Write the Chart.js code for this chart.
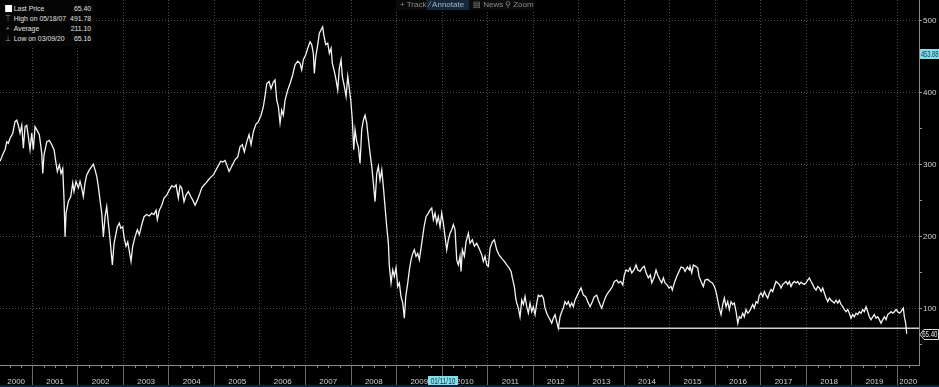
<!DOCTYPE html>
<html lang="en">
<head>
<meta charset="UTF-8">
<title>Price history 2000-2020</title>
<script src="https://cdn.jsdelivr.net/npm/chart.js"></script>
<style>
    body {
        margin: 0;
        background: #000;
        font-family: Arial, 'Liberation Sans', sans-serif;
    }
    .wrap {
        position: relative;
        width: 939px;
        height: 387px;
        background: #000;
    }
    canvas { display: block; }
    .legend {
        position: absolute;
        left: 0;
        top: 0;
        width: 95px;
        height: 46px;
        background: #050505;
    }
    .legend .inner {
        position: absolute;
        left: 0;
        top: 4px;
        width: 110px;
        transform: scaleX(0.86);
        transform-origin: 0 0;
        font-size: 8px;
        color: #e0e0e0;
        white-space: nowrap;
    }
    .legend .row {
        position: relative;
        height: 10px;
        line-height: 10px;
    }
    .legend .ico {
        position: absolute;
        left: 4px;
        width: 10px;
        color: #9a9a9a;
        text-align: center;
    }
    .legend .sq {
        position: absolute;
        left: 6px;
        top: 1px;
        width: 8px;
        height: 7px;
        background: #fff;
    }
    .legend .lab { position: absolute; left: 16px; }
    .legend .val { position: absolute; right: 4px; }
    .toolbar {
        position: absolute;
        left: 396px;
        top: 0;
        height: 10px;
        width: 138px;
        background: #0b0b0b;
        font-size: 8px;
        line-height: 9px;
        color: #8a8a8a;
        white-space: nowrap;
    }
    .toolbar span { position: absolute; top: 0; height: 10px; padding: 0 2px; }
    .toolbar .on { background: #15273b; color: #a3b6c9; }
</style>
</head>
<body>
<div class="wrap">
    <canvas id="priceChart" width="939" height="387"></canvas>
    <div class="legend"><div class="inner" id="legend"></div></div>
    <div class="toolbar">
        <span style="left:2px">+ Track</span>
        <span class="on" style="left:31px;width:38px">&#8725; Annotate</span>
        <span style="left:75px">&#9636; News</span>
        <span style="left:107px">&#9906; Zoom</span>
    </div>
</div>

<script>
// price history (decimal years)
const years = [
    2000.291, 2000.363, 2000.401, 2000.438, 2000.473, 2000.511, 2000.570, 2000.620, 2000.658, 2000.693,
    2000.730, 2000.768, 2000.803, 2000.840, 2000.877, 2000.913, 2000.950, 2000.987, 2001.022, 2001.060,
    2001.097, 2001.154, 2001.207, 2001.229, 2001.257, 2001.317, 2001.374, 2001.427, 2001.477, 2001.521,
    2001.550, 2001.593, 2001.631, 2001.668, 2001.697, 2001.719, 2001.741, 2001.791, 2001.844, 2001.888,
    2001.916, 2001.960, 2002.011, 2002.048, 2002.085, 2002.120, 2002.158, 2002.195, 2002.252, 2002.305,
    2002.340, 2002.378, 2002.415, 2002.450, 2002.487, 2002.525, 2002.560, 2002.597, 2002.634, 2002.670,
    2002.707, 2002.758, 2002.795, 2002.839, 2002.867, 2002.911, 2002.942, 2002.986, 2003.014, 2003.058,
    2003.096, 2003.131, 2003.168, 2003.205, 2003.256, 2003.307, 2003.350, 2003.403, 2003.454, 2003.513,
    2003.570, 2003.623, 2003.673, 2003.717, 2003.746, 2003.790, 2003.843, 2003.893, 2003.952, 2004.009,
    2004.062, 2004.113, 2004.157, 2004.207, 2004.244, 2004.282, 2004.332, 2004.376, 2004.427, 2004.480,
    2004.524, 2004.574, 2004.625, 2004.668, 2004.721, 2004.772, 2004.815, 2004.866, 2004.919, 2004.976,
    2005.035, 2005.086, 2005.138, 2005.182, 2005.233, 2005.270, 2005.321, 2005.380, 2005.452, 2005.512,
    2005.562, 2005.613, 2005.657, 2005.710, 2005.760, 2005.804, 2005.855, 2005.907, 2005.964, 2006.024,
    2006.074, 2006.111, 2006.149, 2006.199, 2006.243, 2006.294, 2006.331, 2006.368, 2006.404, 2006.441,
    2006.478, 2006.513, 2006.551, 2006.610, 2006.661, 2006.711, 2006.770, 2006.830, 2006.880, 2006.917,
    2006.953, 2007.005, 2007.049, 2007.100, 2007.137, 2007.172, 2007.194, 2007.225, 2007.269, 2007.304,
    2007.377, 2007.400, 2007.444, 2007.488, 2007.524, 2007.561, 2007.590, 2007.633, 2007.671, 2007.708,
    2007.743, 2007.781, 2007.809, 2007.853, 2007.891, 2007.928, 2007.956, 2007.994, 2008.029, 2008.060,
    2008.088, 2008.126, 2008.161, 2008.198, 2008.235, 2008.271, 2008.308, 2008.345, 2008.380, 2008.418,
    2008.455, 2008.490, 2008.528, 2008.565, 2008.600, 2008.637, 2008.675, 2008.710, 2008.747, 2008.784,
    2008.820, 2008.842, 2008.879, 2008.916, 2008.951, 2008.989, 2009.026, 2009.061, 2009.098, 2009.136,
    2009.171, 2009.202, 2009.246, 2009.281, 2009.318, 2009.356, 2009.391, 2009.428, 2009.465, 2009.501,
    2009.553, 2009.604, 2009.648, 2009.698, 2009.735, 2009.773, 2009.808, 2009.845, 2009.883, 2009.918,
    2009.955, 2009.992, 2010.028, 2010.065, 2010.102, 2010.138, 2010.175, 2010.212, 2010.247, 2010.284,
    2010.322, 2010.357, 2010.394, 2010.416, 2010.445, 2010.489, 2010.526, 2010.577, 2010.614, 2010.664,
    2010.709, 2010.761, 2010.812, 2010.871, 2010.906, 2010.943, 2010.981, 2011.016, 2011.053, 2011.104,
    2011.148, 2011.200, 2011.251, 2011.310, 2011.367, 2011.420, 2011.471, 2011.515, 2011.543, 2011.587,
    2011.618, 2011.640, 2011.675, 2011.712, 2011.750, 2011.785, 2011.822, 2011.859, 2011.895, 2011.932,
    2011.969, 2012.004, 2012.042, 2012.079, 2012.114, 2012.152, 2012.189, 2012.224, 2012.261, 2012.299,
    2012.334, 2012.371, 2012.408, 2012.443, 2012.481, 2012.518, 2012.553, 2012.591, 2012.628, 2012.663,
    2012.700, 2012.738, 2012.773, 2012.810, 2012.847, 2012.883, 2012.920, 2012.957, 2013.008, 2013.052,
    2013.103, 2013.155, 2013.199, 2013.250, 2013.300, 2013.344, 2013.397, 2013.432, 2013.469, 2013.507,
    2013.542, 2013.595, 2013.639, 2013.689, 2013.740, 2013.784, 2013.836, 2013.872, 2013.924, 2013.968,
    2014.003, 2014.040, 2014.091, 2014.128, 2014.166, 2014.216, 2014.260, 2014.298, 2014.348, 2014.398,
    2014.442, 2014.480, 2014.530, 2014.574, 2014.605, 2014.656, 2014.699, 2014.737, 2014.787, 2014.825,
    2014.860, 2014.897, 2014.947, 2014.985, 2015.029, 2015.057, 2015.101, 2015.154, 2015.204, 2015.248,
    2015.299, 2015.336, 2015.387, 2015.431, 2015.446, 2015.483, 2015.519, 2015.571, 2015.615, 2015.644,
    2015.688, 2015.738, 2015.776, 2015.835, 2015.885, 2015.936, 2015.980, 2016.017, 2016.054, 2016.089,
    2016.127, 2016.164, 2016.200, 2016.236, 2016.274, 2016.309, 2016.347, 2016.384, 2016.419, 2016.457,
    2016.494, 2016.529, 2016.566, 2016.603, 2016.639, 2016.676, 2016.713, 2016.748, 2016.786, 2016.823,
    2016.858, 2016.896, 2016.933, 2016.968, 2017.006, 2017.043, 2017.078, 2017.115, 2017.152, 2017.188,
    2017.225, 2017.262, 2017.297, 2017.335, 2017.372, 2017.407, 2017.445, 2017.482, 2017.517, 2017.555,
    2017.592, 2017.627, 2017.664, 2017.702, 2017.737, 2017.774, 2017.811, 2017.847, 2017.884, 2017.921,
    2017.957, 2017.994, 2018.031, 2018.066, 2018.104, 2018.141, 2018.176, 2018.214, 2018.251, 2018.286,
    2018.324, 2018.361, 2018.396, 2018.433, 2018.471, 2018.506, 2018.543, 2018.580, 2018.616, 2018.653,
    2018.690, 2018.725, 2018.763, 2018.800, 2018.835, 2018.873, 2018.910, 2018.945, 2018.982, 2019.020,
    2019.055, 2019.092, 2019.130, 2019.165, 2019.202, 2019.239, 2019.274, 2019.312, 2019.349, 2019.384,
    2019.422, 2019.459, 2019.494, 2019.532, 2019.569, 2019.604, 2019.641, 2019.679, 2019.714, 2019.751,
    2019.788, 2019.824, 2019.861, 2019.898, 2019.933, 2019.971, 2020.008, 2020.043, 2020.080, 2020.109,
    2020.131, 2020.153, 2020.183, 2020.205
];
const prices = [
    305, 316, 321, 332, 330, 337, 344, 360, 362, 355,
    344, 355, 323, 353, 355, 339, 321, 344, 321, 353,
    349, 342, 316, 288, 314, 332, 334, 328, 321, 302,
    291, 300, 288, 295, 251, 200, 233, 249, 256, 275,
    263, 277, 268, 277, 268, 256, 275, 286, 293, 298,
    301, 293, 284, 270, 251, 233, 200, 228, 242, 219,
    196, 161, 191, 205, 214, 219, 212, 214, 200, 187,
    193, 180, 166, 187, 200, 210, 203, 217, 228, 231,
    229, 233, 231, 237, 224, 237, 244, 254, 258, 265,
    271, 269, 272, 254, 271, 268, 249, 258, 263, 256,
    251, 244, 251, 258, 268, 272, 275, 279, 283, 286,
    293, 299, 305, 304, 306, 300, 291, 298, 307, 311,
    325, 328, 318, 332, 342, 328, 346, 356, 360, 369,
    381, 395, 413, 416, 406, 415, 418, 390, 381, 358,
    376, 369, 390, 404, 413, 423, 439, 444, 441, 432,
    446, 453, 462, 471, 467, 455, 427, 450, 467, 483,
    491.78, 481, 467, 469, 455, 462, 441, 430, 418, 404,
    434, 446, 423, 409, 395, 423, 409, 390, 362, 321,
    349, 332, 325, 302, 349, 362, 369, 358, 337, 316,
    298, 275, 249, 288, 298, 279, 293, 270, 242, 214,
    191, 159, 136, 154, 145, 157, 131, 136, 117, 108,
    87, 117, 136, 154, 168, 177, 182, 173, 177, 168,
    191, 214, 228, 233, 237, 240, 224, 233, 219, 228,
    214, 233, 219, 200, 182, 196, 205, 210, 217, 210,
    168, 161, 173, 152, 182, 173, 193, 205, 191, 196,
    187, 191, 184, 175, 166, 173, 161, 159, 184, 193,
    196, 182, 175, 170, 166, 161, 157, 152, 143, 131,
    115, 108, 101, 89, 112, 106, 117, 103, 94, 108,
    96, 103, 92, 108, 119, 117, 119, 115, 101, 94,
    89, 85, 80, 87, 92, 82, 73, 89, 96, 101,
    110, 106, 110, 103, 108, 103, 112, 117, 124, 129,
    119, 117, 110, 103, 110, 117, 119, 112, 106, 101,
    108, 117, 122, 126, 131, 138, 140, 136, 138, 133,
    147, 154, 152, 157, 150, 154, 161, 154, 152, 157,
    159, 150, 143, 147, 136, 143, 154, 147, 140, 136,
    143, 136, 133, 129, 131, 126, 136, 145, 152, 158,
    157, 152, 158, 154, 159, 150, 161, 159, 157, 145,
    138, 131, 140, 141, 138, 136, 131, 124, 112, 101,
    92, 106, 115, 103, 110, 99, 110, 106, 108, 96,
    80, 89, 87, 94, 89, 99, 94, 96, 101, 106,
    101, 110, 108, 119, 122, 117, 124, 119, 115, 122,
    127, 124, 131, 138, 136, 134, 129, 134, 136, 138,
    134, 138, 131, 136, 138, 136, 138, 134, 137, 135,
    134, 136, 140, 143, 138, 134, 129, 126, 131, 129,
    124, 129, 122, 115, 110, 115, 112, 110, 108, 112,
    108, 112, 106, 103, 99, 96, 99, 94, 87, 92,
    89, 94, 92, 96, 94, 99, 96, 103, 96, 89,
    85, 89, 92, 87, 89, 85, 80, 85, 89, 85,
    92, 94, 96, 94, 96, 99, 96, 94, 96, 99,
    101, 89, 80, 65.40
];

const yearLabels = ['2000', '2001', '2002', '2003', '2004', '2005', '2006', '2007', '2008', '2009',
    '2010', '2011', '2012', '2013', '2014', '2015', '2016', '2017', '2018', '2019', '2020'];
const yTickValues = [100, 200, 300, 400, 500];
const yMinorValues = [50, 150, 250, 350, 450];

const lastPrice = 65.40;
const highPrice = 491.78, highDate = '05/18/07';
const averagePrice = 211.10;
const lowPrice = 65.16, lowDate = '03/09/20';

// horizontal line drawn from the 2012 low
const lowLineStart = 2012.553, lowLineLevel = 73;
// crosshair readouts
const crossValue = 453.88;
const crossDate = 2010.027, crossDateText = '01/11/10';

const xMin = 2000.29, xMax = 2020.475;
const yMin = 22, yMax = 529;
const FONT = "Arial, 'Liberation Sans', sans-serif";

// legend box
const legendRows = [
    { ico: 'sq', label: 'Last Price', value: lastPrice.toFixed(2) },
    { ico: '\u22A4', label: 'High on ' + highDate, value: highPrice.toFixed(2) },
    { ico: '+', label: 'Average', value: averagePrice.toFixed(2) },
    { ico: '\u22A5', label: 'Low on ' + lowDate, value: lowPrice.toFixed(2) }
];
document.getElementById('legend').innerHTML = legendRows.map(r =>
    '<div class="row">' +
    (r.ico === 'sq' ? '<span class="sq"></span>' : '<span class="ico">' + r.ico + '</span>') +
    '<span class="lab">' + r.label + '</span><span class="val">' + r.value + '</span></div>'
).join('');

// tick lists for the x axis: year boundaries (grid) and label positions
const labelPos = {};
yearLabels.forEach(lab => {
    const y = Number(lab);
    const a = Math.max(y, xMin), b = Math.min(y + 1, xMax);
    labelPos[((a + b) / 2).toFixed(4)] = lab;
});

// condensed text on the canvas
function narrowText(ctx, text, x, y, align, sx) {
    ctx.save();
    ctx.translate(x, y);
    ctx.scale(sx, 1);
    ctx.textAlign = align;
    ctx.fillText(text, 0, 0);
    ctx.restore();
}

const overlays = {
    id: 'overlays',
    afterDraw(chart) {
        const ctx = chart.ctx;
        const xs = chart.scales.x, ys = chart.scales.y;
        const area = chart.chartArea;
        ctx.save();

        // small quarter ticks below the plot
        ctx.strokeStyle = '#8a8a8a';
        ctx.lineWidth = 1;
        for (let y = 2000; y <= 2020; y++) {
            [0.25, 0.5, 0.75].forEach(q => {
                const v = y + q;
                if (v <= xMin || v >= xMax) return;
                const px = Math.round(xs.getPixelForValue(v)) + 0.5;
                ctx.beginPath();
                ctx.moveTo(px, area.bottom);
                ctx.lineTo(px, area.bottom + 3);
                ctx.stroke();
            });
        }

        ctx.font = '9px ' + FONT;
        ctx.textBaseline = 'middle';
        const r = area.right;

        // last price tag
        let py = Math.round(ys.getPixelForValue(lastPrice)) + 0.5;
        ctx.beginPath();
        ctx.moveTo(r + 1, py);
        ctx.lineTo(r + 5, py - 5);
        ctx.lineTo(938.5, py - 5);
        ctx.lineTo(938.5, py + 5);
        ctx.lineTo(r + 5, py + 5);
        ctx.closePath();
        ctx.fillStyle = '#000';
        ctx.fill();
        ctx.strokeStyle = '#d8d8d8';
        ctx.stroke();
        ctx.fillStyle = '#e8e8e8';
        narrowText(ctx, lastPrice.toFixed(2), 937.5, py + 0.5, 'right', 0.68);

        // crosshair value tag
        py = Math.round(ys.getPixelForValue(crossValue));
        ctx.fillStyle = '#86dde8';
        ctx.fillRect(r + 1, py - 5, 939 - r - 1, 10);
        ctx.fillStyle = '#0d3c48';
        narrowText(ctx, crossValue.toFixed(2), 938.5, py + 0.5, 'right', 0.64);

        // crosshair date tag
        const px = Math.round(xs.getPixelForValue(crossDate));
        ctx.fillStyle = '#86dde8';
        ctx.fillRect(px - 15, 376, 30, 10);
        ctx.fillStyle = '#0d3c48';
        narrowText(ctx, crossDateText, px, 381.5, 'center', 0.72);

        // bottom strip
        ctx.fillStyle = '#0c2348';
        ctx.fillRect(0, 385, 939, 2);
        ctx.restore();
    }
};

new Chart(document.getElementById('priceChart').getContext('2d'), {
    type: 'line',
    data: {
        datasets: [{
            label: 'Last Price',
            data: years.map((y, i) => ({ x: y, y: prices[i] })),
            borderColor: '#f4f4f4',
            borderWidth: 1.3,
            pointRadius: 0,
            tension: 0
        }, {
            label: 'Low line',
            data: [{ x: lowLineStart, y: lowLineLevel }, { x: xMax, y: lowLineLevel }],
            borderColor: '#cfcfcf',
            borderWidth: 1.4,
            pointRadius: 0
        }]
    },
    options: {
        responsive: false,
        animation: false,
        layout: { padding: 0 },
        plugins: {
            legend: { display: false },
            tooltip: { enabled: false }
        },
        scales: {
            x: {
                type: 'linear',
                min: xMin,
                max: xMax,
                afterBuildTicks: scale => {
                    const t = [];
                    for (let y = 2001; y <= 2020; y++) t.push({ value: y });
                    Object.keys(labelPos).forEach(k => t.push({ value: Number(k) }));
                    t.sort((a, b) => a.value - b.value);
                    scale.ticks = t;
                },
                afterFit: scale => {
                    scale.height = 22;
                    scale.paddingLeft = 0;
                    scale.paddingRight = 0;
                },
                ticks: {
                    autoSkip: false,
                    maxRotation: 0,
                    padding: -10,
                    color: '#d0d0d0',
                    font: { size: 8, family: FONT },
                    callback: v => labelPos[Number(v).toFixed(4)] || ''
                },
                grid: {
                    color: c => Number.isInteger(c.tick.value) ? '#4c4c4c' : 'transparent',
                    tickColor: c => Number.isInteger(c.tick.value) ? '#6a6a6a' : 'transparent',
                    tickLength: 22,
                    drawTicks: true
                },
                border: { color: '#8a8a8a', width: 1, dash: [1, 2] }
            },
            y: {
                type: 'linear',
                position: 'right',
                min: yMin,
                max: yMax,
                afterBuildTicks: scale => {
                    scale.ticks = yMinorValues.concat(yTickValues)
                        .sort((a, b) => a - b)
                        .map(v => ({ value: v }));
                },
                afterFit: scale => {
                    scale.width = 20;
                    scale.paddingTop = 0;
                    scale.paddingBottom = 0;
                },
                ticks: {
                    padding: 1,
                    color: '#d0d0d0',
                    font: { size: 8, family: FONT },
                    callback: v => yTickValues.includes(v) ? String(v) : ''
                },
                grid: {
                    color: c => yTickValues.includes(c.tick.value) ? '#4c4c4c' : 'transparent',
                    tickColor: '#9a9a9a',
                    tickLength: 3
                },
                border: { color: '#8a8a8a', width: 1, dash: [1, 2] }
            }
        }
    },
    plugins: [overlays]
});
</script>
</body>
</html>
